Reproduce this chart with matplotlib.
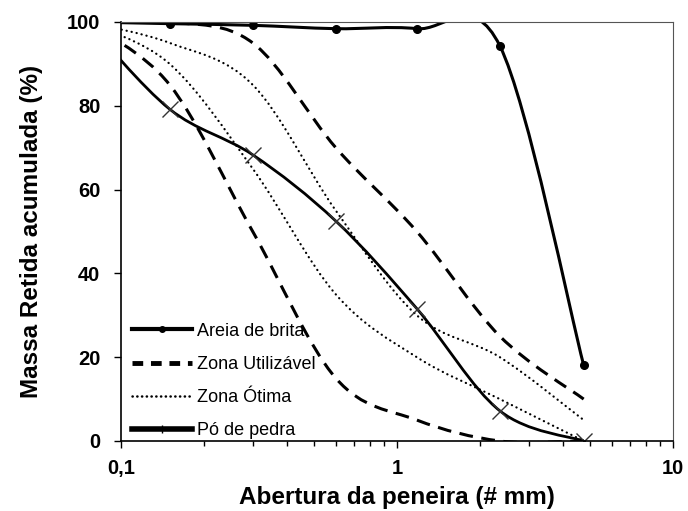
########################################################  Pacotes

import numpy as np
import matplotlib
matplotlib.use('Agg')
import matplotlib.pyplot as plt
from matplotlib.path import Path
from matplotlib.patches import PathPatch
from matplotlib.lines import Line2D

plt.rcParams['font.family'] = ['Liberation Sans', 'DejaVu Sans']

########################################################  Dados

# aberturas das peneiras (mm) - 0,075 = fundo
peneiras = [0.075, 0.15, 0.3, 0.6, 1.18, 2.36, 4.75]

areia_brita = [100, 99.6, 99.2, 98.4, 98.4, 94.3, 18.1]
po_pedra = [100, 79.2, 68.3, 52.5, 31.6, 7.2, 0]

util_inf = [100, 85, 50, 15, 5, 0, 0]
util_sup = [100, 100, 95, 70, 50, 25, 10]
otima_inf = [100, 90, 65, 35, 20, 10, 0]
otima_sup = [100, 95, 85, 55, 30, 20, 5]

rotulos = ['Areia de brita', 'Zona Utilizável', 'Zona Ótima', 'Pó de pedra']

########################################################  Funções

# curva suavizada (estilo "linha suave" do Excel) em escala log
def curva_suave(ax, x, y, **kw):
    lx = np.log10(x)
    y = np.asarray(y, dtype=float)
    n = len(lx)
    verts = [(x[0], y[0])]
    codes = [Path.MOVETO]
    for i in range(n - 1):
        a = max(i - 1, 0)
        b = min(i + 2, n - 1)
        c1x = lx[i] + (lx[i + 1] - lx[a]) / 6
        c1y = y[i] + (y[i + 1] - y[a]) / 6
        c2x = lx[i + 1] - (lx[b] - lx[i]) / 6
        c2y = y[i + 1] - (y[b] - y[i]) / 6
        verts += [(10 ** c1x, c1y), (10 ** c2x, c2y), (x[i + 1], y[i + 1])]
        codes += [Path.CURVE4] * 3
    ax.add_patch(PathPatch(Path(verts, codes), fill=False, **kw))

########################################################  Gráfico

fig, ax = plt.subplots(figsize=(6.88, 5.11), dpi=100)
fig.subplots_adjust(left=0.176, right=0.978, bottom=0.137, top=0.957)

tracejado = (0, (4.5, 2.8))
pontilhado = (0, (0.1, 2.2))

curva_suave(ax, peneiras, util_inf, color='black', lw=2.2, linestyle=tracejado)
curva_suave(ax, peneiras, util_sup, color='black', lw=2.2, linestyle=tracejado)
curva_suave(ax, peneiras, otima_inf, color='black', lw=1.6, linestyle=pontilhado, capstyle='round')
curva_suave(ax, peneiras, otima_sup, color='black', lw=1.6, linestyle=pontilhado, capstyle='round')
curva_suave(ax, peneiras, po_pedra, color='black', lw=2.0)
curva_suave(ax, peneiras, areia_brita, color='black', lw=2.2)

ax.plot(peneiras, areia_brita, linestyle='none', marker='o', ms=5.5, color='black')
ax.plot(peneiras, po_pedra, linestyle='none', marker='x', ms=11, mew=1.0, color='#333333')

ax.set_xscale('log')
ax.set_xlim(0.1, 10)
ax.set_ylim(0, 100)
ax.set_yticks([0, 20, 40, 60, 80, 100])
ax.set_xticks([0.1, 1, 10])
ax.set_xticklabels(['0,1', '1', '10'])
ax.tick_params(axis='both', which='major', labelsize=14.5, length=5, width=1)
ax.tick_params(axis='y', which='major', pad=10)
ax.tick_params(axis='x', which='major', pad=8)
ax.tick_params(axis='x', which='minor', length=3.5, width=1)
ax.xaxis.set_minor_formatter(plt.NullFormatter())
for lab in ax.get_xticklabels() + ax.get_yticklabels():
    lab.set_fontweight('bold')

for lado in ['top', 'right']:
    ax.spines[lado].set_color('#555555')
for lado in ['left', 'bottom']:
    ax.spines[lado].set_linewidth(1.2)

ax.set_xlabel('Abertura da peneira (# mm)', fontsize=17.5, fontweight='bold', labelpad=6)
ax.set_ylabel('Massa Retida acumulada (%)', fontsize=17.5, fontweight='bold', labelpad=17)

handles = [
    Line2D([], [], color='black', lw=3, marker='o', ms=4),
    Line2D([], [], color='black', lw=3.5, linestyle=(0, (2.2, 1.6))),
    Line2D([], [], color='black', lw=1.8, linestyle=(0, (0.1, 1.8)), dash_capstyle='round'),
    Line2D([], [], color='black', lw=4, marker='+', ms=6, mew=1),
]
ax.legend(handles, rotulos, loc='lower left', bbox_to_anchor=(0.0, -0.022), frameon=False,
          fontsize=13, handlelength=3.3, handletextpad=0.3, labelspacing=0.9, borderaxespad=0.2)

plt.savefig('out.png', dpi=100)
